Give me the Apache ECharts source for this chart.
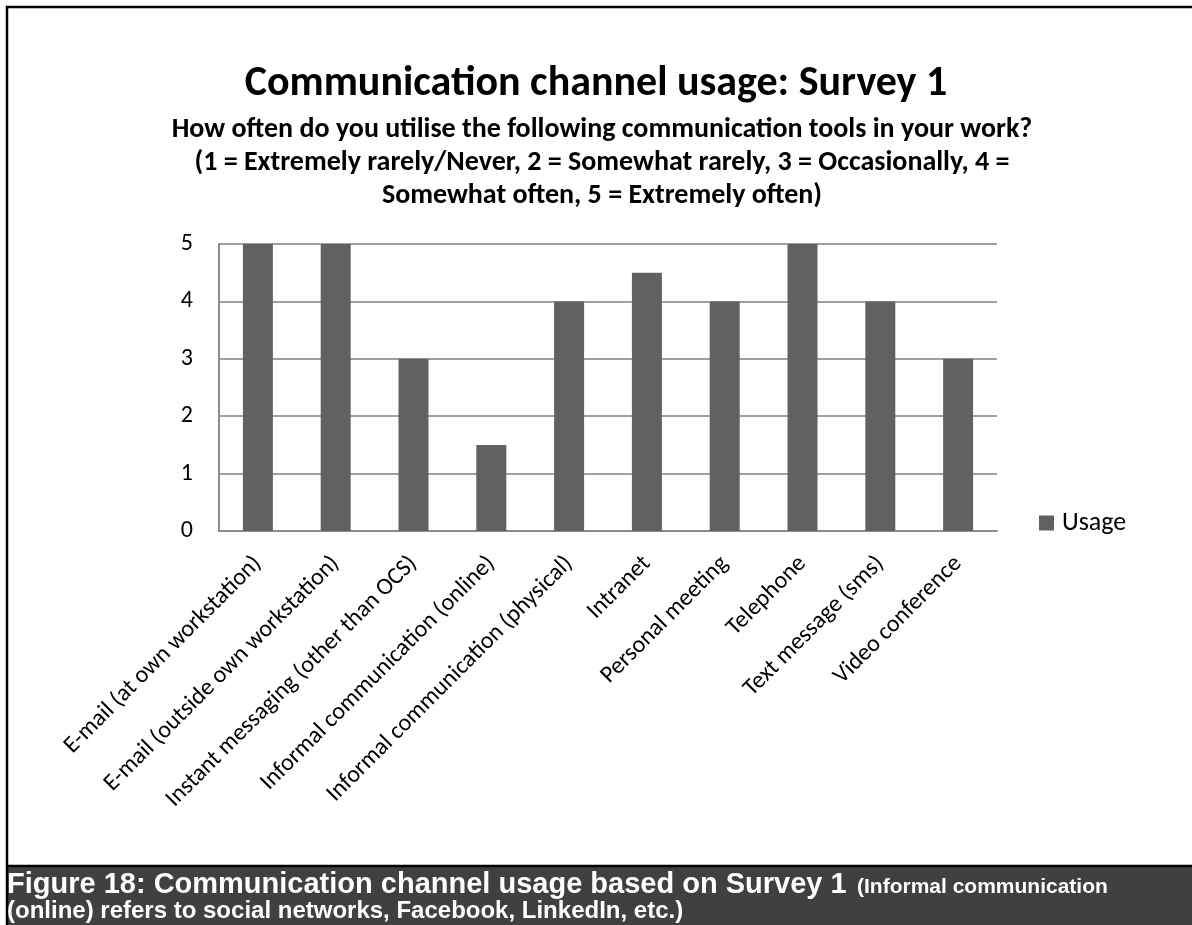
<!DOCTYPE html>
<html>
<head>
<meta charset="utf-8">
<script src="https://cdn.jsdelivr.net/npm/echarts@6/dist/echarts.min.js"></script>
<style>
html,body{margin:0;padding:0;background:#fff;}
#chart{width:1192px;height:925px;}
</style>
</head>
<body>
<div id="chart"></div>
<script>
const categories = [
  'E-mail (at own workstation)',
  'E-mail (outside own workstation)',
  'Instant messaging (other than OCS)',
  'Informal communication (online)',
  'Informal communication (physical)',
  'Intranet',
  'Personal meeting',
  'Telephone',
  'Text message (sms)',
  'Video conference'
];
const usage = [5, 5, 3, 1.5, 4, 4.5, 4, 5, 4, 3];
const seriesName = 'Usage';
const titleText = 'Communication channel usage: Survey 1';
const subtitleLines = [
  'How often do you utilise the following communication tools in your work?',
  '(1 = Extremely rarely/Never, 2 = Somewhat rarely, 3 = Occasionally, 4 =',
  'Somewhat often, 5 = Extremely often)'
];
const captionMain = 'Figure 18: Communication channel usage based on Survey 1';
const captionNote1 = '(Informal communication';
const captionNote2 = '(online) refers to social networks, Facebook, LinkedIn, etc.)';

const FONT = 'Carlito, Lato, "Open Sans", sans-serif';
const CAPFONT = '"Liberation Sans", Arial, sans-serif';
const chart = echarts.init(document.getElementById('chart'), null, {renderer: 'canvas'});
chart.setOption({
  backgroundColor: '#fff',
  animation: false,
  title: [
    {
      text: titleText,
      left: 'center',
      top: 58,
      textStyle: {fontFamily: FONT, fontWeight: 'bold', fontSize: 42, color: '#000'}
    },
    {
      text: subtitleLines.join('\n'),
      left: 597,
      top: 108,
      textAlign: 'center',
      textStyle: {fontFamily: FONT, fontWeight: 'bold', fontSize: 28, lineHeight: 33, color: '#000', align: 'center'}
    }
  ],
  legend: {
    data: [seriesName],
    left: 1039,
    top: 510,
    padding: 0,
    icon: 'rect',
    itemWidth: 15,
    itemHeight: 15,
    itemGap: 8,
    textStyle: {fontFamily: FONT, fontSize: 26, color: '#000', padding: [0, 0, 0, 3]}
  },
  grid: {left: 219, right: 195, top: 244, bottom: 394, containLabel: false},
  xAxis: {
    type: 'category',
    data: categories,
    axisTick: {show: false},
    axisLine: {lineStyle: {color: '#8c8c8c', width: 2}},
    axisLabel: {
      interval: 0,
      rotate: 45,
      margin: 29,
      fontFamily: FONT,
      fontSize: 24,
      color: '#000'
    }
  },
  yAxis: {
    type: 'value',
    min: 0,
    max: 5,
    interval: 1,
    axisLine: {show: true, lineStyle: {color: '#8c8c8c', width: 2}},
    axisTick: {show: false},
    splitLine: {lineStyle: {color: '#a0a0a0', width: 2}},
    axisLabel: {fontFamily: FONT, fontSize: 24, color: '#000', margin: 26}
  },
  series: [{
    name: seriesName,
    type: 'bar',
    data: usage,
    barWidth: 30,
    itemStyle: {color: '#616161'}
  }],
  graphic: [
    {type: 'line', shape: {x1: 6, y1: 7, x2: 1192, y2: 7}, style: {stroke: '#000', lineWidth: 2.5}, z: 100},
    {type: 'line', shape: {x1: 7, y1: 6, x2: 7, y2: 925}, style: {stroke: '#000', lineWidth: 2.5}, z: 100},
    {type: 'rect', shape: {x: 6, y: 866, width: 1186, height: 59}, style: {fill: '#404040'}, z: 99},
    {type: 'line', shape: {x1: 6, y1: 866, x2: 1192, y2: 866}, style: {stroke: '#000', lineWidth: 2.5}, z: 100},
    {
      type: 'text', x: 7, y: 885, z: 101,
      style: {text: captionMain, font: 'bold 29px ' + CAPFONT, fill: '#fff', verticalAlign: 'middle', align: 'left'}
    },
    {
      type: 'text', x: 857, y: 887, z: 101,
      style: {text: captionNote1, font: 'bold 21px ' + CAPFONT, fill: '#fff', verticalAlign: 'middle', align: 'left'}
    },
    {
      type: 'text', x: 7, y: 911, z: 101,
      style: {text: captionNote2, font: 'bold 24px ' + CAPFONT, fill: '#fff', verticalAlign: 'middle', align: 'left'}
    }
  ]
});
</script>
</body>
</html>
